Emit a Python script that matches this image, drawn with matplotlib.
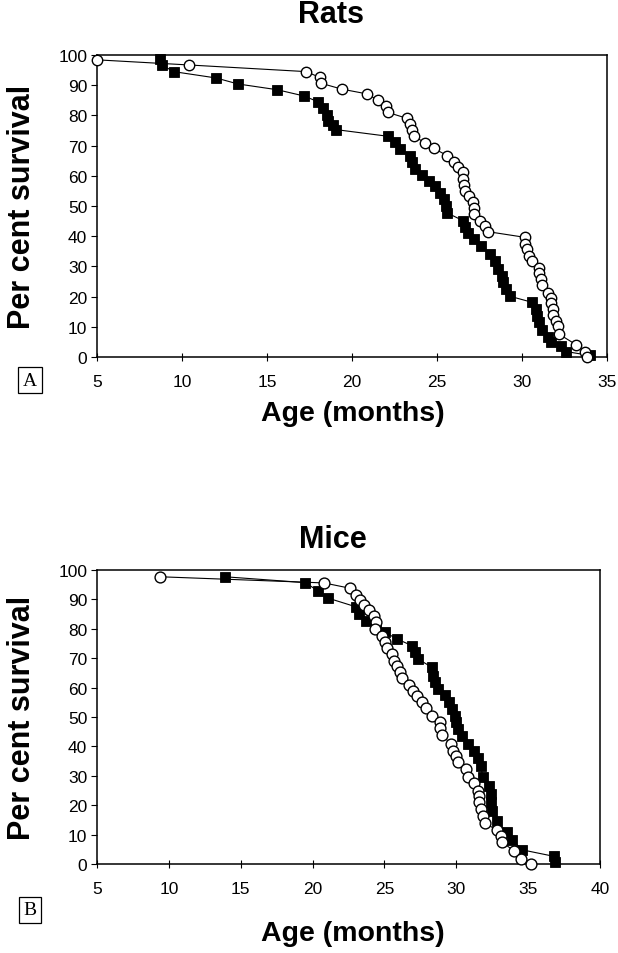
import matplotlib
matplotlib.use("Agg")
import matplotlib.pyplot as plt

plt.rcParams['font.family'] = ['Liberation Sans', 'DejaVu Sans']

# ---------------- data ----------------
rats_open_x = [5.0, 10.4, 17.3, 18.1, 18.2, 19.4, 20.9, 21.5, 22.0, 22.1, 23.25, 23.4, 23.5,
               23.65, 24.3, 24.8, 25.6, 26.0, 26.25, 26.5, 26.55, 26.6, 26.65, 26.9, 27.1,
               27.2, 27.2, 27.5, 27.8, 28.0, 30.2, 30.2, 30.3, 30.4, 30.6, 31.0, 31.0, 31.1,
               31.2, 31.5, 31.7, 31.7, 31.8, 31.8, 32.0, 32.1, 32.2, 33.2, 33.7, 33.8]
rats_open_y = [98.4, 96.7, 94.5, 92.6, 90.6, 88.7, 87.1, 85.1, 83.2, 81.0, 79.0, 77.2, 75.3,
               73.1, 70.9, 69.1, 66.7, 64.7, 62.8, 61.2, 58.9, 57.1, 55.1, 53.2, 51.2,
               49.2, 47.4, 45.1, 43.3, 41.5, 39.6, 37.5, 35.6, 33.5, 31.8, 29.6, 27.7, 25.9,
               23.7, 21.2, 19.6, 17.8, 16.0, 13.9, 12.0, 10.2, 7.5, 4.0, 1.8, 0.0]

rats_fill_x = [8.7, 8.8, 9.5, 12.0, 13.3, 15.6, 17.2, 18.0, 18.3, 18.5, 18.6, 18.9, 19.05,
               22.1, 22.5, 22.8, 23.4, 23.5, 23.7, 24.1, 24.5, 24.9, 25.2, 25.4, 25.5, 25.6,
               26.55, 26.65, 26.85, 27.2, 27.6, 28.1, 28.4, 28.6, 28.8, 28.9, 29.05, 29.3,
               30.6, 30.8, 30.9, 31.0, 31.2, 31.5, 31.7, 32.3, 32.6, 34.0]
rats_fill_y = [98.7, 96.8, 94.5, 92.4, 90.4, 88.5, 86.4, 84.5, 82.4, 80.0, 78.2, 76.8, 75.3,
               73.1, 71.1, 68.9, 66.7, 64.5, 62.3, 60.3, 58.4, 56.7, 54.3, 52.3, 50.1, 47.7,
               45.1, 42.9, 41.1, 39.1, 36.7, 34.1, 31.9, 29.1, 26.9, 24.7, 22.5, 20.1,
               18.1, 15.9, 13.7, 11.5, 9.0, 6.5, 5.0, 3.5, 1.8, 0.5]

mice_open_x = [9.4, 20.8, 22.6, 23.0, 23.3, 23.6, 23.9, 24.3, 24.4, 24.35, 24.8, 25.05, 25.2,
               25.5, 25.7, 25.85, 26.1, 26.2, 26.7, 27.0, 27.3, 27.6, 27.9, 28.3, 28.85, 28.85,
               29.0, 29.65, 29.8, 30.0, 30.1, 30.7, 30.8, 31.2, 31.5, 31.55, 31.6, 31.7, 31.85,
               32.0, 32.8, 33.1, 33.2, 34.0, 34.5, 35.2]
mice_open_y = [97.7, 95.6, 93.8, 91.5, 89.9, 88.1, 86.5, 84.5, 82.2, 79.9, 77.7, 75.4, 73.4,
               71.4, 69.2, 67.2, 65.2, 63.2, 60.8, 58.9, 57.0, 55.2, 53.2, 50.5, 48.2, 46.1,
               43.8, 40.8, 38.5, 36.6, 34.6, 32.3, 29.6, 27.6, 24.9, 23.0, 21.0, 18.7, 16.4,
               13.9, 11.6, 9.6, 7.4, 4.5, 1.7, 0.0]

mice_fill_x = [13.9, 19.5, 20.4, 21.1, 23.0, 23.2, 23.7, 24.4, 25.05, 25.85, 26.9, 27.1, 27.35,
               28.3, 28.4, 28.55, 28.7, 29.2, 29.5, 29.7, 29.9, 30.0, 30.1, 30.4, 30.8, 31.2,
               31.5, 31.7, 31.85, 32.3, 32.4, 32.45, 32.5, 32.8, 33.5, 33.9, 34.6, 36.8, 36.9]
mice_fill_y = [97.7, 95.7, 92.8, 90.4, 87.5, 85.2, 82.6, 80.5, 78.8, 76.6, 74.3, 72.0, 69.7,
               66.9, 64.1, 61.8, 59.5, 57.5, 55.2, 52.8, 50.4, 48.2, 45.9, 43.5, 40.8, 38.5,
               36.0, 33.5, 29.5, 26.6, 23.8, 21.0, 18.1, 14.5, 11.0, 8.0, 4.8, 2.6, 0.6]

rats_xticks = [5, 10, 15, 20, 25, 30, 35]
mice_xticks = [5, 10, 15, 20, 25, 30, 35, 40]
yticks = [0, 10, 20, 30, 40, 50, 60, 70, 80, 90, 100]

# ---------------- figure ----------------
W, H = 618, 954
fig = plt.figure(figsize=(W / 100, H / 100), dpi=100)


def px_axes(x0, y0, x1, y1):
    return fig.add_axes([x0 / W, 1 - y1 / H, (x1 - x0) / W, (y1 - y0) / H])


def style(ax, xticks, xlim):
    ax.set_xlim(*xlim)
    ax.set_ylim(0, 100)
    ax.set_xticks(xticks)
    ax.set_yticks(yticks)
    for s in ax.spines.values():
        s.set_linewidth(1.1)
        s.set_color('black')
    ax.tick_params(axis='y', direction='out', length=4, width=0.8, labelsize=12.5, pad=3)
    ax.tick_params(axis='x', direction='inout', length=6, width=0.8, labelsize=12.5, pad=9)


def draw(ax, fx, fy, ox, oy, ms):
    ax.plot(fx, fy, color='black', lw=0.8, marker='s', ms=ms, mfc='black', mec='black',
            mew=0.6, zorder=3, clip_on=False)
    ax.plot(ox, oy, color='black', lw=0.8, marker='o', ms=ms, mfc='white', mec='black',
            mew=1.0, zorder=4, clip_on=False)


ax1 = px_axes(97, 56, 607, 358)
draw(ax1, rats_fill_x, rats_fill_y, rats_open_x, rats_open_y, 7.5)
style(ax1, rats_xticks, (5, 35))

ax2 = px_axes(97, 571, 600, 865)
draw(ax2, mice_fill_x, mice_fill_y, mice_open_x, mice_open_y, 7.8)
style(ax2, mice_xticks, (5, 40))

tkw = dict(fontweight='bold', ha='center', va='center')
fig.text(331 / W, 1 - 15 / H, 'Rats', fontsize=22, **tkw)
fig.text(333 / W, 1 - 540 / H, 'Mice', fontsize=22, **tkw)
fig.text(353 / W, 1 - 414 / H, 'Age (months)', fontsize=20.5, **tkw)
fig.text(353 / W, 1 - 934 / H, 'Age (months)', fontsize=20.5, **tkw)
fig.text(22 / W, 1 - 207 / H, 'Per cent survival', fontsize=22, rotation=90, **tkw)
fig.text(22 / W, 1 - 718 / H, 'Per cent survival', fontsize=22, rotation=90, **tkw)

bkw = dict(ha='center', va='center', fontsize=14, family=['Liberation Serif', 'DejaVu Serif'],
           bbox=dict(boxstyle='square,pad=0.25', fc='white', ec='black', lw=0.9))
fig.text(30 / W, 1 - 381 / H, 'A', **bkw)
fig.text(30 / W, 1 - 911 / H, 'B', **bkw)

fig.savefig('out.png', dpi=100)
